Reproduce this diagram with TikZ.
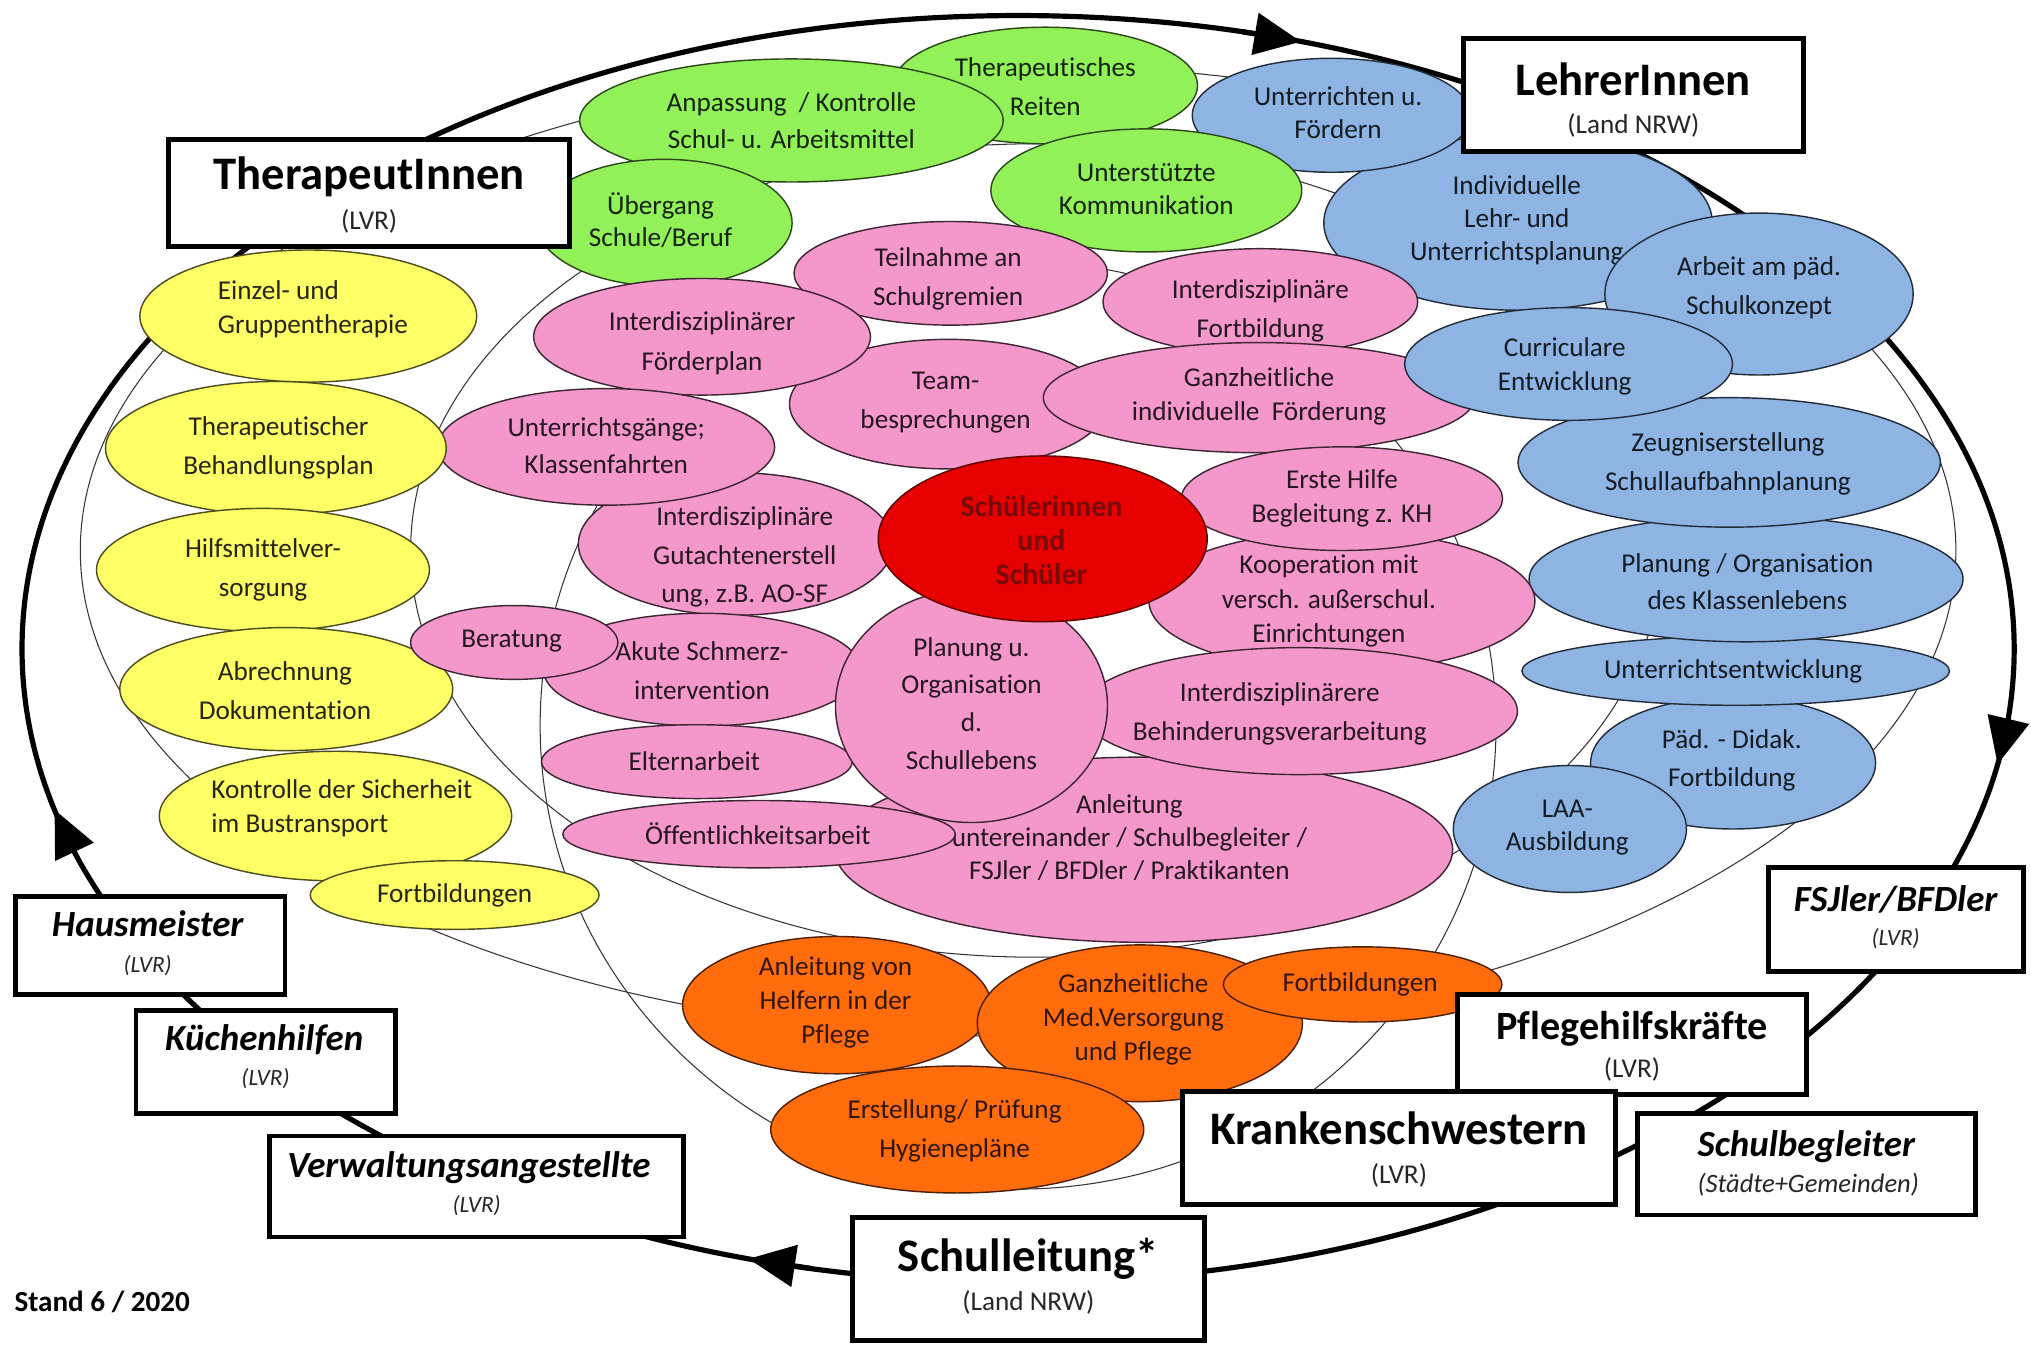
\documentclass[tikz,border=0pt]{standalone}
\usepackage{fontspec}
\setmainfont{Carlito}[Ligatures=NoCommon]
\usetikzlibrary{shapes.geometric,arrows.meta}
\definecolor{cgreen}{RGB}{146,240,88}
\definecolor{cblue}{RGB}{142,180,227}
\definecolor{cpink}{RGB}{244,152,204}
\definecolor{cyellow}{RGB}{255,255,102}
\definecolor{corange}{RGB}{255,108,12}
\definecolor{cred}{RGB}{230,0,0}
\definecolor{credtext}{RGB}{120,10,10}
\begin{document}
\begin{tikzpicture}[x=1pt,y=-1pt,
  ell/.style={ellipse, line width=1.1pt, inner sep=0pt},
  es/.style 2 args={minimum width=#1, minimum height=#2},
  ge/.style={ell, fill=cgreen, draw=cgreen!30!black},
  be/.style={ell, fill=cblue, draw=cblue!25!black},
  pe/.style={ell, fill=cpink, draw=cpink!25!black},
  ye/.style={ell, fill=cyellow, draw=cyellow!30!black},
  oe/.style={ell, fill=corange, draw=corange!30!black},
  tx/.style={align=center, inner sep=0pt, font=\fontsize{21}{#1}\selectfont},
  tx/.default=27,
  gt/.style={tx=#1, text=cgreen!15!black}, gt/.default=27,
  bt/.style={tx=#1, text=cblue!15!black}, bt/.default=27,
  pt/.style={tx=#1, text=cpink!15!black}, pt/.default=27,
  yt/.style={tx=#1, text=cyellow!15!black}, yt/.default=27,
  ot/.style={tx=#1, text=corange!20!black}, ot/.default=27,
  thinl/.style={draw=black!80, line width=0.8pt},
  cyc/.style={draw=black, line width=4pt},
  cycarrow/.style={cyc, -{Triangle[length=36pt,width=32pt]}},
  box/.style={rectangle, draw=black, line width=3.8pt, fill=white, inner sep=0pt},
  ttl/.style={anchor=base, inner sep=0pt, font=\fontsize{36}{40}\selectfont\bfseries},
  ttm/.style={anchor=base, inner sep=0pt, font=\fontsize{31}{34}\selectfont\bfseries},
  tti/.style={anchor=base, inner sep=0pt, font=\fontsize{28.5}{32}\selectfont\bfseries\itshape},
  sub/.style={anchor=base, inner sep=0pt, font=\fontsize{21}{24}\selectfont, text=black!85},
  subi/.style={anchor=base, inner sep=0pt, font=\fontsize{18}{21}\selectfont\itshape, text=black!85},
]
\useasboundingbox (0,0) rectangle (1568,1038);
\fill[white] (0,0) rectangle (1568,1038);

% thin inner ellipses
\draw[thinl] (786,425) ellipse [x radius=724, y radius=375];
\draw[thinl] (800,425) ellipse [x radius=483, y radius=314];
\draw[thinl] (786,560) ellipse [x radius=369, y radius=358];

% thick cycle
\draw[cyc] (786,501) ellipse [x radius=769, y radius=489];
\coordinate (a1s) at (959.0,24.5);  \coordinate (a1e) at (1004.4,32.2);
\coordinate (a2s) at (1549.2,560.6); \coordinate (a2e) at (1542.2,590.1);
\coordinate (a3s) at (626.1,979.3);  \coordinate (a3e) at (577.9,971.8);
\coordinate (a4s) at (56.8,656.2);   \coordinate (a4e) at (42.1,625.1);
\draw[cycarrow] (a1s) -- (a1e);
\draw[cycarrow] (a2s) -- (a2e);
\draw[cycarrow] (a3s) -- (a3e);
\draw[cycarrow] (a4s) -- (a4e);

% ---- blue (upper) and green
\node[be, es={300}{135}] (e6) at (1172,172) {};
\node[bt=25.5] (t6) at (1171,170) {Individuelle\\Lehr- und\\Unterrichtsplanung};
\node[be, es={215}{88}] (e5) at (1028,89) {};
\node[bt=26] (t5) at (1033,87) {Unterrichten u.\\Fördern};
\node[ge, es={235}{90}] (e2) at (807,66) {};
\node[gt=30] (t2) at (807,67) {Therapeutisches\\Reiten};
\node[ge, es={327}{95}] (e1) at (611,93) {};
\node[gt=29] (t1) at (611,93) {Anpassung~ / Kontrolle\\Schul- u. Arbeitsmittel};
\node[ge, es={197}{98}] (e3) at (513,172) {};
\node[gt=25] (t3) at (510,170) {Übergang\\Schule/Beruf};
\node[ge, es={240}{95}] (e4) at (885,147) {};
\node[gt=26] (t4) at (885,146) {Unterstützte\\Kommunikation};
\node[be, es={238}{125}] (e7) at (1358,227) {};
\node[bt=30] (t7) at (1358,222) {Arbeit am päd.\\Schulkonzept};

% ---- pink upper
\node[pe, es={242}{80}] (e14) at (734,211) {};
\node[pt=30] (t14) at (732,215) {Teilnahme an\\Schulgremien};
\node[pe, es={245}{100}] (e17) at (732,312) {};
\node[pt=30] (t17) at (730,311) {Team-\\besprechungen};
\node[pe, es={260}{90}] (e16) at (542,260) {};
\node[pt=31] (t16) at (542,265) {Interdisziplinärer\\Förderplan};
\node[pe, es={243}{82}] (e15) at (973,233) {};
\node[pt=30] (t15) at (973,240) {Interdisziplinäre\\Fortbildung};
\node[pe, es={333}{85}] (e18) at (972,307) {};
\node[pt=26] (t18) at (972,306) {Ganzheitliche\\individuelle~ Förderung};

% ---- blue right
\node[be, es={220}{102}] (e12) at (1338,589) {};
\node[bt=29] (t12) at (1337,587) {Päd. - Didak.\\Fortbildung};
\node[be, es={180}{98}] (e13) at (1212,640) {};
\node[bt=26] (t13) at (1210,639) {LAA-\\Ausbildung};
\node[be, es={330}{53}] (e11) at (1340,518) {};
\node[bt] (t11) at (1338,518) {Unterrichtsentwicklung};
\node[be, es={335}{97}] (e10) at (1348,447) {};
\node[bt=29] (t10) at (1349,449) {Planung / Organisation\\des Klassenlebens};
\node[be, es={326}{100}] (e9) at (1335,357) {};
\node[bt=30] (t9) at (1334,358) {Zeugniserstellung\\Schullaufbahnplanung};
\node[be, es={253}{87}] (e8) at (1211,281) {};
\node[bt=26] (t8) at (1208,283) {Curriculare\\Entwicklung};

% ---- pink middle
\node[pe, es={243}{110}] (e21) at (568,420) {};
\node[pt=29.5] (t21) at (575,430) {Interdisziplinäre\\Gutachtenerstell\\ung, z.B. AO-SF};
\node[pe, es={260}{90}] (e19) at (468,345) {};
\node[pt=29] (t19) at (468,344) {Unterrichtsgänge;\\Klassenfahrten};
\node[pe, es={245}{87}] (e23) at (542,517) {};
\node[pt=30] (t23) at (542,518) {Akute Schmerz-\\intervention};
\node[pe, es={240}{57}] (e27) at (538,588) {};
\node[pt] (t27) at (536,588) {Elternarbeit};
\node[pe, es={298}{108}] (e22) at (1036,464) {};
\node[pt=26.5] (t22) at (1026,464) {Kooperation mit\\versch. außerschul.\\Einrichtungen};
\node[pe, es={248}{80}] (e20) at (1036,385) {};
\node[pt=26] (t20) at (1036,385) {Erste Hilfe\\Begleitung z. KH};
\node[pe, es={477}{143}] (e28) at (883,656) {};
\node[pt=25.5] (t28) at (872,647) {Anleitung\\untereinander / Schulbegleiter /\\FSJler / BFDler / Praktikanten};
\node[pe, es={337}{98}] (e26) at (1003,549) {};
\node[pt=30] (t26) at (988,551) {Interdisziplinärere\\Behinderungsverarbeitung};
\node[pe, es={210}{180}] (e25) at (750,545) {};
\node[pt=29] (t25) at (750,543) {Planung u.\\Organisation\\d.\\Schullebens};
\node[pe, es={303}{52}] (e29) at (586,644) {};
\node[pt] (t29) at (585,644) {Öffentlichkeitsarbeit};
\node[ell, fill=cred, draw=cred!40!black, es={254}{128}] (e30) at (805,416) {};
\node[align=center, inner sep=0pt, text=credtext, font=\fontsize{23}{26.5}\selectfont\bfseries] (t30) at (804,417) {Schülerinnen\\und\\Schüler};

% ---- yellow
\node[ye, es={260}{102}] (e31) at (238,244) {};
\node[yt=26, align=left, anchor=west] (t31) at (168,239) {Einzel- und\\Gruppentherapie};
\node[ye, es={263}{103}] (e32) at (213,346) {};
\node[yt=30] (t32) at (215,346) {Therapeutischer\\Behandlungsplan};
\node[ye, es={257}{95}] (e33) at (203,440) {};
\node[yt=30] (t33) at (203,440) {Hilfsmittelver-\\sorgung};
\node[ye, es={257}{95}] (e34) at (221,532) {};
\node[yt=30] (t34) at (220,533) {Abrechnung\\Dokumentation};
\node[ye, es={272}{100}] (e35) at (259,630) {};
\node[yt=26, align=left, anchor=west] (t35) at (163,624) {Kontrolle der Sicherheit\\im Bustransport};
\node[ye, es={223}{53}] (e36) at (351,691) {};
\node[yt] (t36) at (351,691) {Fortbildungen};
\node[pe, es={160}{57}] (e24) at (397,496) {};
\node[pt] (t24) at (395,495) {Beratung};

% ---- orange
\node[oe, es={238}{106}] (e37) at (646,776) {};
\node[ot=26] (t37) at (645,774) {Anleitung von\\Helfern in der\\Pflege};
\node[oe, es={251}{121}] (e38) at (880,790) {};
\node[ot=26] (t38) at (875,787) {Ganzheitliche\\Med.Versorgung\\und Pflege};
\node[oe, es={215}{58}] (e39) at (1052,760) {};
\node[ot] (t39) at (1050,760) {Fortbildungen};
\node[oe, es={288}{98}] (e40) at (739,872) {};
\node[ot=30] (t40) at (737,873) {Erstellung/ Prüfung\\Hygienepläne};

% ---- boxes
\node[box, minimum width=310, minimum height=82] (bThera) at (285,149) {};
\node[ttl] (bThera-t) at (285,146.5) {TherapeutInnen};
\node[sub] (bThera-s) at (285,177) {(LVR)};

\node[box, minimum width=262, minimum height=87] (bLehr) at (1261,73.5) {};
\node[ttl] (bLehr-t) at (1261,73.5) {LehrerInnen};
\node[sub] (bLehr-s) at (1261,103) {(Land NRW)};

\node[box, minimum width=197, minimum height=80] (bFSJ) at (1463.5,710) {};
\node[tti] (bFSJ-t) at (1463.5,704) {FSJler/BFDler};
\node[subi] (bFSJ-s) at (1463.5,730) {(LVR)};

\node[box, minimum width=270, minimum height=77] (bPfl) at (1260,806.5) {};
\node[ttm] (bPfl-t) at (1260,802.5) {Pflegehilfskräfte};
\node[sub] (bPfl-s) at (1260,832) {(LVR)};

\node[box, minimum width=334, minimum height=87] (bKr) at (1080,886.5) {};
\node[ttl] (bKr-t) at (1080,883.5) {Krankenschwestern};
\node[sub] (bKr-s) at (1080,914) {(LVR)};

\node[box, minimum width=261, minimum height=78] (bSb) at (1394.5,899) {};
\node[tti] (bSb-t) at (1394.5,893) {Schulbegleiter};
\node[subi, font=\fontsize{20.5}{24}\selectfont\itshape] (bSb-s) at (1396,921) {(Städte+Gemeinden)};

\node[box, minimum width=272, minimum height=95] (bSl) at (794,987.5) {};
\node[ttl] (bSl-t) at (794,981.5) {Schulleitung*};
\node[sub] (bSl-s) at (794,1012) {(Land NRW)};

\node[box, minimum width=320, minimum height=78] (bVw) at (368,916) {};
\node[tti] (bVw-t) at (362,909.4) {Verwaltungsangestellte};
\node[subi] (bVw-s) at (368,936) {(LVR)};

\node[box, minimum width=200, minimum height=80] (bKu) at (205,820) {};
\node[tti] (bKu-t) at (204,811) {Küchenhilfen};
\node[subi] (bKu-s) at (205,838) {(LVR)};

\node[box, minimum width=208, minimum height=76] (bHm) at (116,730) {};
\node[tti] (bHm-t) at (114,723) {Hausmeister};
\node[subi] (bHm-s) at (114,751) {(LVR)};

\node[anchor=west, inner sep=0pt, font=\fontsize{22.5}{26}\selectfont\bfseries] (stand) at (11,1005) {Stand 6 / 2020};
\end{tikzpicture}
\end{document}
